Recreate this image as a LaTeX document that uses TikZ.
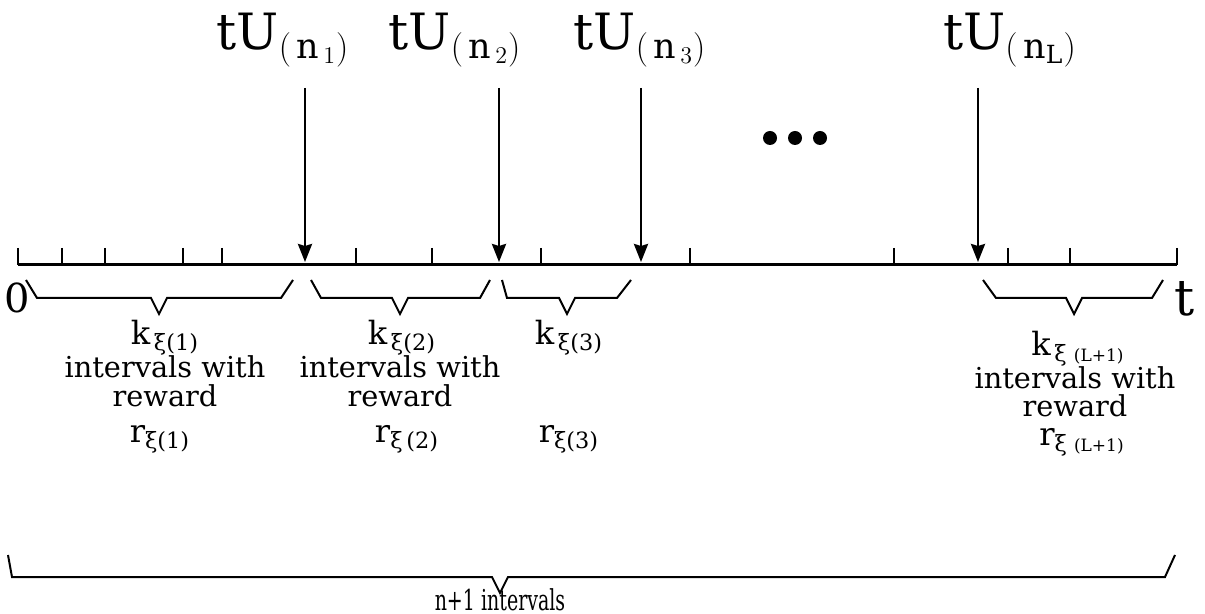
\documentclass[tikz,border=0pt]{standalone}
\usepackage{amsmath,amssymb}
\usepackage{fontspec}
\setmainfont{DejaVu Serif}
\usepackage{tikz}
\usetikzlibrary{arrows.meta}
\usepackage{xcolor}

\begin{document}
\begin{tikzpicture}[x=0.5pt,y=-0.5pt,>={Stealth[length=9pt,width=7pt,inset=1pt]},
  lbl/.style={inner sep=0pt,anchor=base,font=\fontsize{14.4}{16}\selectfont},
  sym/.style={inner sep=0pt,anchor=base,font=\fontsize{16}{18}\selectfont},
  big/.style={inner sep=0pt,anchor=base,font=\fontsize{25}{30}\selectfont}]
\useasboundingbox (0,0) rectangle (1205,614);
% time axis with ticks
\draw[line width=1.5pt] (18,265) -- (1177,265);
\foreach \x in {18,62,105,183,222,356,432,541,690,894,1008,1070,1177}
  \draw[line width=0.8pt] (\x,248) -- (\x,265);
% labels above the axis
\node[big] (u1) at (283,50) {tU$_{(\,\mathrm{n}_{\,1})}$};
\node[big] (u2) at (455,50) {tU$_{(\,\mathrm{n}_{\,2})}$};
\node[big] (u3) at (640,50) {tU$_{(\,\mathrm{n}_{\,3})}$};
\node[big] (uL) at (1010,50) {tU$_{(\,\mathrm{n}_{\mathrm{L}})}$};
\foreach \x/\n in {305/1,499/2,641/3,978/L} {
  \coordinate (top\n) at (\x,88);
  \coordinate (tip\n) at (\x,262);
  \draw[->,line width=1.3pt] (top\n) -- (tip\n);
}
\foreach \x in {770,795,820}
  \fill (\x,138) circle (7);
\node[lbl,font=\fontsize{20}{22}\selectfont] (zero) at (17,313) {0};
\node[big] (tt) at (1185,316) {t};
% braces under the axis
\foreach \a/\b/\c/\d/\e in {26/37/159/281/293,311/321/400/480/490,502/507/567/617/631,983/996/1074/1152/1163}
  \draw[line width=1pt] (\a,280) -- (\b,298) -- (\c-8,298) -- (\c,314) -- (\c+8,298) -- (\d,298) -- (\e,280);
\draw[line width=1pt] (8,555) -- (12,577) -- (492,577) -- (500,593) -- (508,577) -- (1165,577) -- (1175,555);
% interval texts
\node[sym] (k1) at (165,345) {$\mathrm{k}_{\,\text{ξ(1)}}$};
\node[lbl] (w1) at (165,378) {intervals with};
\node[lbl] (rw1) at (165,407) {reward};
\node[sym] (r1) at (160,443) {$\mathrm{r}_{\text{ξ(1)}}$};
\node[sym] (k2) at (402,345) {$\mathrm{k}_{\,\text{ξ(2)}}$};
\node[lbl] (w2) at (400,378) {intervals with};
\node[lbl] (rw2) at (400,407) {reward};
\node[sym] (r2) at (407,443) {$\mathrm{r}_{\text{ξ\,(2)}}$};
\node[sym] (k3) at (569,345) {$\mathrm{k}_{\,\text{ξ(3)}}$};
\node[sym] (r3) at (569,443) {$\mathrm{r}_{\text{ξ(3)}}$};
\node[sym] (k4) at (1078,356) {$\mathrm{k}_{\,\text{ξ\ \fontsize{8.5}{9}\selectfont(L+1)}}$};
\node[lbl] (w4) at (1075,389) {intervals with};
\node[lbl] (rw4) at (1075,417) {reward};
\node[sym] (r4) at (1082,446) {$\mathrm{r}_{\text{ξ\ \fontsize{8.5}{9}\selectfont(L+1)}}$};
\node[lbl,xscale=0.66] (all) at (500,610) {n+1 intervals};
\end{tikzpicture}
\end{document}
